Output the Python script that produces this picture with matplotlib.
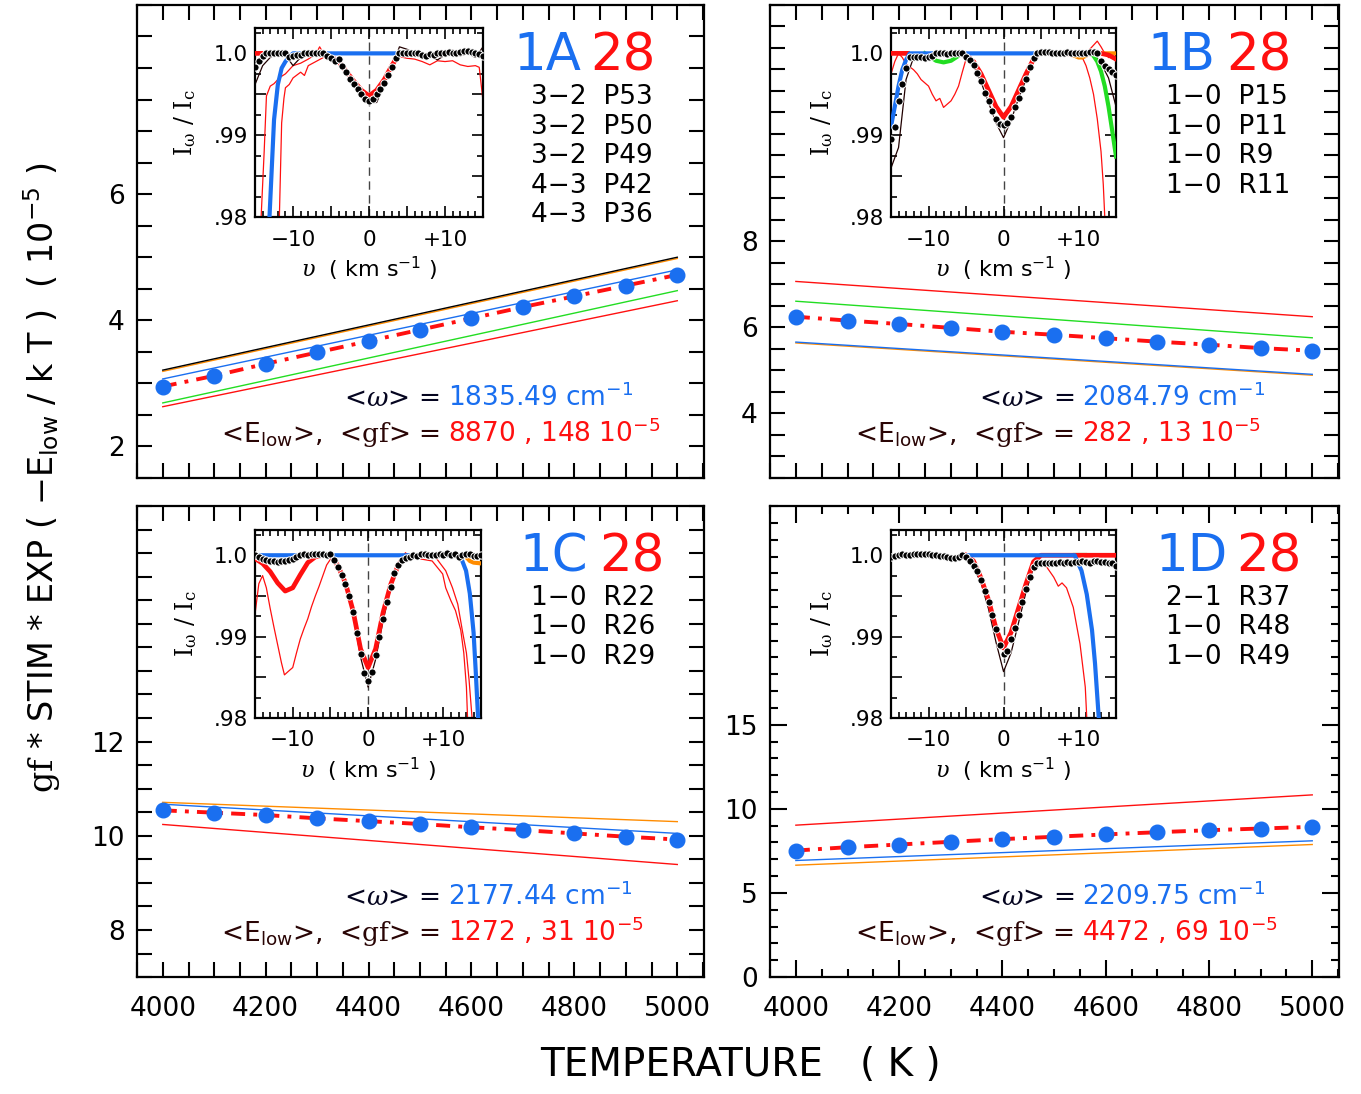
import numpy as np
import matplotlib
matplotlib.use('Agg')
import matplotlib.pyplot as plt
from matplotlib.ticker import MultipleLocator, FixedLocator, FuncFormatter, NullFormatter

# ---- main panels: summed gf*STIM*exp(-E/kT) (1e-5) vs temperature ----
temps = [4000, 4100, 4200, 4300, 4400, 4500, 4600, 4700, 4800, 4900, 5000]
sum_1a = [2.95, 3.12, 3.31, 3.49, 3.67, 3.85, 4.03, 4.21, 4.38, 4.55, 4.72]
sum_1b = [6.25, 6.16, 6.08, 5.99, 5.90, 5.83, 5.75, 5.67, 5.60, 5.52, 5.46]
sum_1c = [10.54, 10.49, 10.44, 10.37, 10.31, 10.25, 10.18, 10.12, 10.05, 9.98, 9.92]
sum_1d = [7.52, 7.72, 7.88, 8.04, 8.20, 8.34, 8.48, 8.61, 8.73, 8.83, 8.93]

# individual line contributions at 4000 K and 5000 K
t_ends = [4000, 5000]
c1a_orange = [3.19, 4.98]
c1a_black = [3.21, 5.00]
c1a_blue = [3.07, 4.80]
c1a_green = [2.69, 4.47]
c1a_red = [2.63, 4.31]
c1b_red = [7.07, 6.25]
c1b_green = [6.61, 5.76]
c1b_orange = [5.64, 4.89]
c1b_blue = [5.66, 4.91]
c1c_orange = [10.71, 10.30]
c1c_blue = [10.67, 10.05]
c1c_red = [10.24, 9.39]
c1d_red = [9.03, 10.83]
c1d_blue = [6.93, 8.10]
c1d_orange = [6.65, 7.88]

tags = ['1A', '1B', '1C', '1D']
lines_1a = ['3\u22122  P53', '3\u22122  P50', '3\u22122  P49', '4\u22123  P42', '4\u22123  P36']
lines_1b = ['1\u22120  P15', '1\u22120  P11', '1\u22120  R9', '1\u22120  R11']
lines_1c = ['1\u22120  R22', '1\u22120  R26', '1\u22120  R29']
lines_1d = ['2\u22121  R37', '1\u22120  R48', '1\u22120  R49']
omega = ['1835.49', '2084.79', '2177.44', '2209.75']
elow = ['8870', '282', '1272', '4472']
gf = ['148', '13', '31', '69']

# ---- insets: normalised spectra, v in km/s ----
v_obs = np.linspace(-15, 15, 61)
v_one = np.arange(-15, 16)

obs_1a = [0.9983, 0.9991, 0.9997, 1.0000, 1.0001, 1.0001, 1.0001, 1.0001, 1.0000, 0.9996,
          0.9997, 0.9998, 0.9998, 1.0000, 1.0001, 1.0001, 1.0000, 1.0001, 1.0000, 0.9997,
          0.9994, 0.9991, 0.9993, 0.9985, 0.9977, 0.9969, 0.9962, 0.9956, 0.9950, 0.9944,
          0.9942, 0.9944, 0.9950, 0.9956, 0.9964, 0.9973, 0.9983, 0.9994, 1.0000, 1.0001,
          1.0001, 1.0001, 1.0001, 1.0000, 0.9998, 0.9997, 0.9999, 0.9998, 1.0000, 1.0000,
          1.0001, 1.0002, 1.0001, 1.0000, 1.0002, 1.0003, 1.0003, 1.0002, 1.0001, 0.9999, 0.9997]
obs_1b = [0.9895, 0.9910, 0.9942, 0.9962, 0.9982, 0.9995, 0.9996, 0.9996, 0.9995, 0.9994,
          0.9995, 0.9997, 1.0000, 1.0000, 1.0000, 0.9999, 1.0000, 1.0000, 1.0001, 1.0001,
          0.9995, 0.9992, 0.9986, 0.9976, 0.9966, 0.9951, 0.9942, 0.9930, 0.9920, 0.9914,
          0.9913, 0.9915, 0.9922, 0.9935, 0.9945, 0.9957, 0.9969, 0.9983, 0.9994, 1.0000,
          1.0002, 1.0002, 1.0002, 1.0001, 1.0000, 1.0000, 1.0000, 1.0002, 1.0001, 1.0000,
          1.0000, 1.0001, 1.0001, 1.0002, 1.0002, 1.0001, 0.9991, 0.9985, 0.9981, 0.9977, 0.9973]
obs_1c = [1.0000, 0.9998, 0.9995, 0.9994, 0.9993, 0.9993, 0.9992, 0.9993, 0.9993, 0.9994,
          0.9995, 0.9998, 1.0000, 1.0001, 1.0000, 1.0001, 1.0001, 1.0001, 1.0002, 1.0000,
          1.0002, 0.9994, 0.9986, 0.9976, 0.9965, 0.9950, 0.9930, 0.9905, 0.9879, 0.9855,
          0.9846, 0.9857, 0.9877, 0.9899, 0.9922, 0.9942, 0.9961, 0.9978, 0.9988, 0.9994,
          0.9997, 0.9998, 1.0000, 0.9999, 1.0001, 1.0002, 1.0000, 1.0000, 1.0000, 1.0002,
          1.0000, 1.0003, 1.0000, 1.0001, 0.9998, 1.0000, 1.0002, 1.0001, 0.9999, 0.9999, 1.0000]
obs_1d = [0.9998, 0.9999, 1.0000, 1.0001, 1.0000, 1.0000, 1.0001, 1.0002, 1.0002, 1.0001,
          1.0001, 1.0000, 1.0000, 0.9999, 0.9999, 0.9998, 0.9997, 0.9997, 0.9998, 1.0000,
          0.9998, 0.9993, 0.9987, 0.9981, 0.9970, 0.9956, 0.9942, 0.9926, 0.9909, 0.9890,
          0.9879, 0.9882, 0.9897, 0.9911, 0.9926, 0.9942, 0.9958, 0.9973, 0.9985, 0.9990,
          0.9991, 0.9990, 0.9991, 0.9990, 0.9991, 0.9992, 0.9991, 0.9992, 0.9991, 0.9992,
          0.9992, 0.9993, 0.9992, 0.9991, 0.9993, 0.9993, 0.9992, 0.9992, 0.9991, 0.9990, 0.9987]

# second observed spectrum (thin black), 1 km/s steps
alt_1a = [0.9962, 0.9985, 0.9995, 1.0000, 0.9998, 0.9985, 0.9995, 1.0000, 1.0000, 0.9998,
          0.9992, 0.9990, 0.9978, 0.9962, 0.9950, 0.9940, 0.9940, 0.9962, 0.9982, 1.0008,
          1.0005, 1.0000, 0.9995, 0.9997, 0.9992, 0.9998, 1.0004, 0.9997, 1.0000, 0.9995, 1.0008]
alt_1b = [0.9860, 0.9885, 0.9968, 0.9995, 0.9993, 0.9995, 0.9999, 0.9999, 1.0000, 1.0001,
          0.9996, 0.9985, 0.9965, 0.9940, 0.9915, 0.9897, 0.9918, 0.9945, 0.9968, 0.9992,
          1.0003, 1.0002, 1.0001, 1.0000, 1.0001, 1.0002, 1.0001, 1.0000, 0.9988, 0.9970, 0.9935]
alt_1c = [0.9995, 0.9992, 0.9990, 0.9990, 0.9991, 0.9993, 0.9998, 1.0000, 1.0000, 1.0000,
          0.9998, 0.9985, 0.9962, 0.9928, 0.9875, 0.9838, 0.9872, 0.9920, 0.9960, 0.9986,
          0.9996, 0.9999, 1.0000, 0.9999, 1.0000, 1.0001, 1.0000, 0.9998, 1.0000, 0.9999, 1.0000]
alt_1d = [0.9995, 0.9999, 0.9998, 1.0000, 1.0001, 1.0000, 0.9999, 0.9997, 0.9996, 0.9997,
          0.9996, 0.9985, 0.9966, 0.9934, 0.9893, 0.9857, 0.9880, 0.9917, 0.9955, 0.9985,
          0.9990, 0.9989, 0.9990, 0.9990, 0.9991, 0.9991, 0.9990, 0.9992, 0.9991, 0.9990, 0.9985]

# fitted model (thick red)
mod_1a_v = [-15, -13.4, np.nan, -6, -5, -4, -3, -2, -1, 0, 1, 2, 3, 4]
mod_1a = [1.0, 1.0, np.nan, 1.0, 0.9996, 0.9990, 0.9978, 0.9966, 0.9955, 0.9948, 0.9955, 0.9968, 0.9985, 1.0]
mod_1b_v = [-15, -12.8, np.nan, -5.5, -5, -4, -3, -2, -1, 0, 1, 2, 3, 4, 4.5, np.nan, 13, 14, 15]
mod_1b = [1.0, 1.0, np.nan, 1.0, 0.9998, 0.9990, 0.9975, 0.9955, 0.9935, 0.9922, 0.9935, 0.9955,
          0.9975, 0.9993, 1.0, np.nan, 1.0, 0.9998, 0.9993]
mod_1c_v = [-15, -14, -13, -12, -11, -10, -9, -8, -7, -6, -5, -4, -3, -2, -1, 0, 1, 2, 3, 4, 5]
mod_1c = [0.9996, 0.9990, 0.9980, 0.9966, 0.9956, 0.9960, 0.9976, 0.9991, 0.9998, 1.0, 1.0,
          0.9987, 0.9966, 0.9932, 0.9885, 0.9862, 0.9885, 0.9930, 0.9964, 0.9988, 1.0]
mod_1d_v = [-5, -4, -3, -2, -1, 0, 1, 2, 3, 4, 5, 15]
mod_1d = [1.0, 0.9993, 0.9972, 0.9945, 0.9910, 0.9886, 0.9905, 0.9935, 0.9965, 0.9992, 1.0, 1.0]

# other-species models (thick blue, green, orange)
blue_1a_v = [-13.1, -12.5, -12, -11.5, -11, -10.5, -10, 3.5]
blue_1a = [0.98, 0.9919, 0.9962, 0.9982, 0.9990, 0.9996, 1.0, 1.0]
blue_1b_v = [-15, -14.5, -14, -13.5, -13, -12.5, 4.5]
blue_1b = [0.9911, 0.9935, 0.9960, 0.9980, 0.9992, 1.0, 1.0]
blue_1c_v = [-15, 12.0, 12.5, 13.0, 13.5, 14.0, 14.3, 14.6]
blue_1c = [1.0, 1.0, 0.9993, 0.9981, 0.9953, 0.9905, 0.9855, 0.98]
blue_1d_v = [-5, 9.5, 9.8, 10.4, 11.1, 11.8, 12.2, 12.7]
blue_1d = [1.0, 1.0, 0.9993, 0.9981, 0.9952, 0.9908, 0.9867, 0.98]
green_1b_v = [-10.5, -10, -9, -8, -7, -6, -5.5, np.nan, 11.5, 12, 12.5, 13, 13.5, 14, 14.5, 15]
green_1b = [1.0, 0.9997, 0.9991, 0.9989, 0.9991, 0.9997, 1.0, np.nan,
            1.0, 0.9997, 0.9990, 0.9978, 0.9960, 0.9935, 0.9905, 0.9874]
green_1d_v = [9.5, 10.8]
green_1d = [1.0, 1.0]
orange_1b_v = [8.5, 9.5, 10, 10.5, 11, 11.5, np.nan, 13.5, 15]
orange_1b = [1.0, 0.9997, 0.9995, 0.9995, 0.9997, 1.0, np.nan, 1.0, 1.0]
orange_1c_v = [12.5, 13, 13.5, 14, 15]
orange_1c = [1.0, 0.9998, 0.9993, 0.9991, 0.9990]

# single-line profiles (thin red)
thin_1a = [
    ([-14.2, -13.8, -13.5, -13, -12.5, -12, -11.5, -11, -10.5, -10, -9, -8, -7, -6.5, -6, -5, -4, -3,
      -2, -1, 0, 1, 2, 3, 4, 5, 6, 7, 8, 9, 10, 11, 12, 13, 14, 14.5, 15],
     [0.98, 0.988, 0.9948, 0.9960, 0.9963, 0.9968, 0.9972, 0.9975, 0.9980, 0.9985, 0.9988, 0.9993,
      0.9999, 1.0008, 1.0000, 0.9994, 0.9988, 0.9976, 0.9964, 0.9953, 0.9948, 0.9955, 0.9968, 0.9985,
      0.9996, 0.9994, 0.9993, 0.9990, 0.9986, 0.9991, 0.9990, 0.9991, 0.9986, 0.9984, 0.9985, 0.9983, 0.9942]),
    ([-11.8, -11.5, -11.2, -11, -10.5, -10, -9, -8.5, -8, -7, -6, -5],
     [0.98, 0.9915, 0.9945, 0.9958, 0.9962, 0.9970, 0.9977, 0.9973, 0.9985, 0.9990, 0.9995, 1.0]),
]
thin_1b = [
    ([-15, -14.5, -14, -13.5, -13, -12, -11.5, -11, -10, -9.5, -9, -8.5, -8, -7.5, -7, -6.5, -6, -5.5,
      -5, -4, -3, -2, -1, 0, 1, 2, 3, 4, 5, 6, 7, 8, 9, 10, 10.5, 11, 11.5, 12, 12.5, 13, 13.3, 13.5],
     [0.9975, 0.9990, 1.0000, 0.9995, 0.9987, 0.9980, 0.9975, 0.9968, 0.9960, 0.9950, 0.9942, 0.9945,
      0.9934, 0.9938, 0.9942, 0.9950, 0.9960, 0.9977, 0.9993, 0.9988, 0.9972, 0.9952, 0.9932, 0.9920,
      0.9932, 0.9952, 0.9972, 0.9990, 1.0, 1.0, 0.9998, 0.9998, 0.9997, 0.9997, 0.9995, 0.9985,
      0.9970, 0.9950, 0.9920, 0.9880, 0.9840, 0.98]),
    ([11, 11.5, 12, 12.5, 13, 13.5, 14],
     [1.0, 1.0005, 1.0010, 1.0015, 1.0008, 1.0, 0.9995]),
]
thin_1c = [
    ([-15, -14.5, -14, -13.5, -13, -12.5, -12, -11.5, -11.1, -10.5, -10, -9.5, -9, -8.5, -8, -7.5,
      -7, -6.5, -6, -5.5, -5],
     [0.9928, 0.9965, 0.9975, 0.9960, 0.9935, 0.9912, 0.9890, 0.9868, 0.9853, 0.9858, 0.9862, 0.9880,
      0.9897, 0.9910, 0.9922, 0.9937, 0.9950, 0.9962, 0.9975, 0.9988, 0.9995]),
    ([-15, -14, -13, -12, -11, -10, -9, -8, -7],
     [0.9998, 0.9994, 0.9991, 0.9989, 0.9990, 0.9993, 0.9996, 0.9999, 1.0]),
    ([6, 8.5, 9.9, 10.3, 11, 11.6, 12.3, 12.7, 13.05, 13.2],
     [0.9997, 0.9993, 0.9977, 0.9960, 0.9944, 0.9932, 0.9908, 0.9880, 0.9838, 0.98]),
    ([9, 10.3, 11.2, 11.9, 12.5, 13.05, 13.4, 13.8],
     [0.9997, 0.9981, 0.9960, 0.9940, 0.9908, 0.9880, 0.9847, 0.98]),
]
thin_1d = [
    ([4.5, 5.8, 6.7, 7.3, 7.8, 8.4, 9.3, 10.2, 10.9, 11.1],
     [0.9995, 0.9985, 0.9973, 0.9962, 0.9966, 0.9960, 0.9936, 0.9891, 0.9838, 0.98]),
]

BLUE = '#1a6ff0'
RED = '#ff1010'
GREEN = '#22dd22'
ORANGE = '#ff8c00'
DARK = '#2a0505'

plt.rcParams['font.family'] = ['DejaVu Sans']
plt.rcParams['mathtext.fontset'] = 'custom'
plt.rcParams['mathtext.rm'] = 'DejaVu Serif'
plt.rcParams['mathtext.it'] = 'DejaVu Serif:italic'
plt.rcParams['mathtext.sf'] = 'DejaVu Sans'

fig = plt.figure(figsize=(13.61, 10.94), dpi=100)

main_pos = [[0.1007, 0.5631, 0.4166, 0.4324], [0.5658, 0.5631, 0.4181, 0.4324],
            [0.1007, 0.1069, 0.4166, 0.4305], [0.5658, 0.1069, 0.4181, 0.4305]]
inset_pos = [[0.1874, 0.8016, 0.1675, 0.1728], [0.6547, 0.8016, 0.1653, 0.1728],
             [0.1874, 0.3437, 0.1661, 0.1718], [0.6547, 0.3437, 0.1653, 0.1718]]
ylims = [(1.5, 9.0), (2.5, 13.5), (7.0, 17.0), (0.0, 28.0)]
ymajor = [[2, 4, 6], [4, 6, 8], [8, 10, 12], [0, 5, 10, 15]]
yminor = [0.5, 0.5, 0.5, 1.0]
sums = [sum_1a, sum_1b, sum_1c, sum_1d]
comps = [[(c1a_red, RED), (c1a_green, GREEN), (c1a_blue, BLUE), (c1a_orange, ORANGE), (c1a_black, 'black')],
         [(c1b_red, RED), (c1b_green, GREEN), (c1b_orange, ORANGE), (c1b_blue, BLUE)],
         [(c1c_red, RED), (c1c_orange, ORANGE), (c1c_blue, BLUE)],
         [(c1d_red, RED), (c1d_orange, ORANGE), (c1d_blue, BLUE)]]
line_lists = [lines_1a, lines_1b, lines_1c, lines_1d]
tag_x = [(0.663, 0.914), (0.663, 0.917), (0.675, 0.931), (0.677, 0.935)]

obs_all = [obs_1a, obs_1b, obs_1c, obs_1d]
alt_all = [alt_1a, alt_1b, alt_1c, alt_1d]
mod_all = [(mod_1a_v, mod_1a), (mod_1b_v, mod_1b), (mod_1c_v, mod_1c), (mod_1d_v, mod_1d)]
blue_all = [(blue_1a_v, blue_1a), (blue_1b_v, blue_1b), (blue_1c_v, blue_1c), (blue_1d_v, blue_1d)]
green_all = [None, (green_1b_v, green_1b), None, (green_1d_v, green_1d)]
orange_all = [None, (orange_1b_v, orange_1b), (orange_1c_v, orange_1c), None]
thin_all = [thin_1a, thin_1b, thin_1c, thin_1d]


def inset_ylab(val, pos):
    labs = {100: '1.0', 99: '.99', 98: '.98'}
    k = int(round(val * 100))
    if abs(val * 100 - k) < 1e-6 and k in labs:
        return labs[k]
    return ''


def inset_xlab(val, pos):
    labs = {-10: '\u221210', 0: '0', 10: '+10'}
    return labs.get(int(round(val)), '')


for i in range(4):
    ax = fig.add_axes(main_pos[i])
    for vals, col in comps[i]:
        ax.plot(t_ends, vals, color=col, lw=1.0, zorder=2)
    ax.plot(temps, sums[i], color=RED, lw=2.8, ls=(0, (3.6, 2.1, 1.0, 2.1)), zorder=3)
    ax.plot(temps, sums[i], 'o', color=BLUE, ms=10.5, mec=BLUE, zorder=4)
    ax.set_xlim(3950, 5052)
    ax.set_ylim(*ylims[i])
    ax.xaxis.set_major_locator(MultipleLocator(200))
    ax.xaxis.set_minor_locator(MultipleLocator(50))
    ax.yaxis.set_major_locator(FixedLocator(ymajor[i]))
    ax.yaxis.set_minor_locator(MultipleLocator(yminor[i]))
    if i == 3:
        ax.tick_params(which='major', length=12)
        ax.tick_params(which='minor', length=6)
    else:
        ax.tick_params(which='both', length=11)
    ax.tick_params(which='both', direction='in', top=True, right=True, width=1.5,
                   labelsize=19, pad=9)
    ax.tick_params(axis='x', which='major', pad=14)
    if i < 2:
        ax.xaxis.set_major_formatter(NullFormatter())
    for s in ax.spines.values():
        s.set_linewidth(1.6)

    # panel tag and contributing lines
    ax.text(tag_x[i][0], 0.862, tags[i], color=BLUE, fontsize=37, transform=ax.transAxes,
            ha='left', va='baseline')
    ax.text(tag_x[i][1], 0.862, '28', color=RED, fontsize=37, transform=ax.transAxes,
            ha='right', va='baseline')
    for k, lab in enumerate(line_lists[i]):
        ax.text(0.695, 0.805 - 0.0625 * k, lab, fontsize=19, transform=ax.transAxes,
                ha='left', va='center')

    ax.text(0.534, 0.153, r'<$\omega$> =', fontsize=19, transform=ax.transAxes,
            ha='right', va='baseline', color='#050520')
    ax.text(0.548, 0.153, omega[i] + r' cm$^{\mathsf{-1}}$', fontsize=19, color=BLUE,
            transform=ax.transAxes, ha='left', va='baseline')
    ax.text(0.534, 0.077, r'<E$_{\mathsf{low}}$>,  <$\mathrm{gf}$> =', fontsize=19,
            transform=ax.transAxes, ha='right', va='baseline', color=DARK)
    ax.text(0.548, 0.077, elow[i] + ' , ' + gf[i] + r' 10$^{\mathsf{-5}}$', fontsize=19,
            color=RED, transform=ax.transAxes, ha='left', va='baseline')

    # inset spectrum
    ins = fig.add_axes(inset_pos[i])
    ins.axvline(0, color='#444444', lw=1.0, ls=(0, (6, 4)), zorder=1)
    for vv, ii in thin_all[i]:
        ins.plot(vv, ii, color=RED, lw=0.9, zorder=2)
    ins.plot(v_one, alt_all[i], color='#200000', lw=0.9, zorder=2)
    if green_all[i] is not None:
        ins.plot(green_all[i][0], green_all[i][1], color=GREEN, lw=3, zorder=3)
    if orange_all[i] is not None:
        ins.plot(orange_all[i][0], orange_all[i][1], color=ORANGE, lw=3, zorder=3)
    ins.plot(mod_all[i][0], mod_all[i][1], color=RED, lw=3.4, zorder=3)
    ins.plot(blue_all[i][0], blue_all[i][1], color=BLUE, lw=3, zorder=4)
    ins.plot(v_obs, obs_all[i], 'o', color='black', ms=5.2, mec='white', mew=0.7, zorder=5)
    ins.set_xlim(-15, 15)
    ins.set_ylim(0.98, 1.0031)
    ins.xaxis.set_major_locator(MultipleLocator(5))
    ins.xaxis.set_minor_locator(MultipleLocator(1))
    ins.xaxis.set_major_formatter(FuncFormatter(inset_xlab))
    ins.yaxis.set_major_locator(FixedLocator([0.98, 0.985, 0.99, 0.995, 1.0]))
    ins.yaxis.set_minor_locator(FixedLocator([0.9825, 0.9875, 0.9925, 0.9975, 1.0025]))
    ins.yaxis.set_major_formatter(FuncFormatter(inset_ylab))
    ins.tick_params(which='major', length=8)
    ins.tick_params(which='minor', length=4)
    ins.tick_params(which='both', direction='in', top=True, right=True, width=1.2, labelsize=15.5)
    ins.tick_params(axis='x', pad=9)
    ins.tick_params(axis='y', pad=5)
    for s in ins.spines.values():
        s.set_linewidth(1.6)
    ins.set_ylabel(r'$\mathrm{I_\omega\ /\ I_c}$', fontsize=17)
    ins.yaxis.set_label_coords(-0.25, 0.5)
    ins.set_xlabel(r'$\upsilon$  ( km s$^{\mathsf{-1}}$ )', fontsize=16)
    ins.xaxis.set_label_coords(0.5, -0.2)

fig.text(0.031, 0.5635, r'$\mathrm{gf}$ * STIM * EXP ( $-$E$_{\mathsf{low}}$ / k T )  ( 10$^{\mathsf{-5}}$ )',
         rotation=90, fontsize=24, ha='center', va='center')
fig.text(0.5437, 0.0265, 'TEMPERATURE   ( K )', fontsize=28, ha='center', va='center')

fig.savefig('out.png', dpi=100)
